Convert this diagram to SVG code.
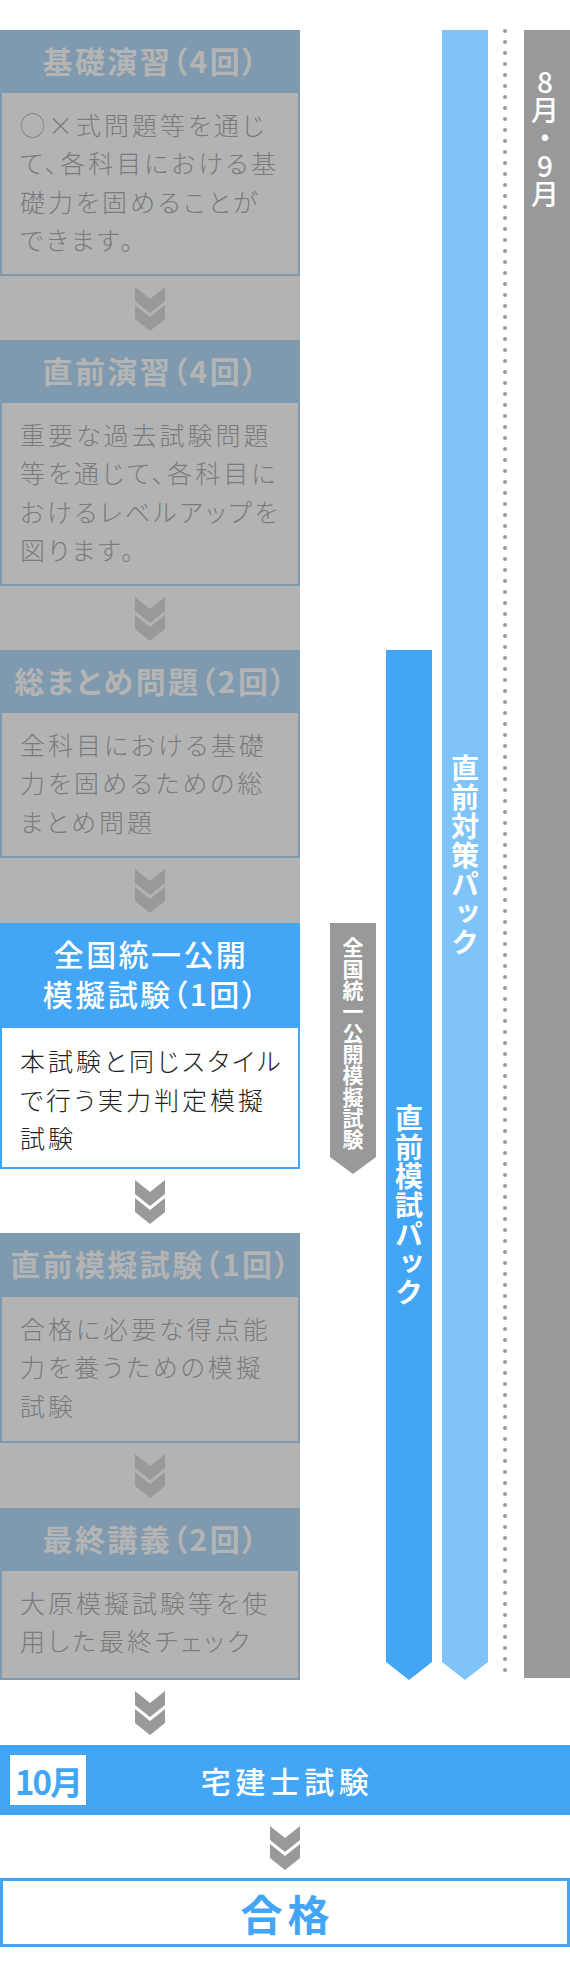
<svg xmlns="http://www.w3.org/2000/svg" width="570" height="1980" viewBox="0 0 570 1980">
<style>
text { font-family: "Noto Sans CJK JP", "Noto Sans", sans-serif; font-feature-settings: "palt"; }
.hd { font-size: 30px; font-weight: 700; letter-spacing: 2.4px; text-anchor: middle; }
.hdg { fill: #b4b4b4; }
.hdw { fill: #ffffff; font-weight: 500; }
.bd { font-size: 25px; font-weight: 300; letter-spacing: 3px; }
.bdg { fill: #7b7b7b; }
.bdk { fill: #222222; }
.hbg { fill: #7f9aae; }
.bbg { fill: #b3b3b3; stroke: #7f9aae; stroke-width: 2; }
.band { fill: #b3b3b3; }
.chev { fill: #999999; }
.vt { writing-mode: vertical-rl; text-orientation: upright; fill: #ffffff; font-weight: 700; font-feature-settings: normal; }
</style>
<defs>
<g id="dchev">
<path d="M-15,0 L0,12 L15,0 L15,14 L0,26 L-15,14 Z"/>
<path d="M-15,18 L0,30 L15,18 L15,32 L0,44 L-15,32 Z"/>
</g>
</defs>

<g id="timeline">
<rect x="524" y="30" width="46" height="1648" fill="#999999"/>
<text class="vt" x="545" y="68" font-size="28" font-weight="500" style="font-weight:500">8月・9月</text>
<line x1="505" y1="31" x2="505" y2="1673" stroke="#999999" stroke-width="4" stroke-linecap="round" stroke-dasharray="0 11"/>
</g>

<g id="pack-taisaku">
<polygon points="442,30 488,30 488,1662 465,1680 442,1662" fill="#7fc4f8"/>
<text class="vt" x="465" y="754" font-size="28" letter-spacing="1">直前対策パック</text>
</g>

<g id="pack-moshi">
<polygon points="386,650 432,650 432,1662 409,1680 386,1662" fill="#42a5f5"/>
<text class="vt" x="409" y="1104" font-size="28" letter-spacing="1">直前模試パック</text>
</g>

<g id="tag-zenkoku">
<polygon points="330,923 376,923 376,1157 353,1174 330,1157" fill="#999999"/>
<text class="vt" x="353" y="937" font-size="21" letter-spacing="0.3">全国統一公開模擬試験</text>
</g>

<g id="bands">
<rect class="band" x="0" y="276" width="300" height="64"/>
<rect class="band" x="0" y="586" width="300" height="64"/>
<rect class="band" x="0" y="858" width="300" height="65"/>
<rect class="band" x="0" y="1443" width="300" height="65"/>
</g>

<g id="step1">
<rect class="hbg" x="0" y="30" width="300" height="62"/>
<text class="hd hdg" x="151" y="73">基礎演習（4回）</text>
<rect class="bbg" x="1" y="92" width="298" height="183"/>
<text class="bd bdg" x="20" y="135">◯×式問題等を通じ</text>
<text class="bd bdg" x="20" y="173.3">て、各科目における基</text>
<text class="bd bdg" x="20" y="211.6">礎力を固めることが</text>
<text class="bd bdg" x="20" y="250">できます。</text>
</g>

<g id="step2">
<rect class="hbg" x="0" y="340" width="300" height="62"/>
<text class="hd hdg" x="151" y="383">直前演習（4回）</text>
<rect class="bbg" x="1" y="402" width="298" height="183"/>
<text class="bd bdg" x="20" y="445">重要な過去試験問題</text>
<text class="bd bdg" x="20" y="483.3">等を通じて、各科目に</text>
<text class="bd bdg" x="20" y="521.6">おけるレベルアップを</text>
<text class="bd bdg" x="20" y="560">図ります。</text>
</g>

<g id="step3">
<rect class="hbg" x="0" y="650" width="300" height="62"/>
<text class="hd hdg" x="151" y="693">総まとめ問題（2回）</text>
<rect class="bbg" x="1" y="712" width="298" height="145"/>
<text class="bd bdg" x="20" y="755">全科目における基礎</text>
<text class="bd bdg" x="20" y="793.3">力を固めるための総</text>
<text class="bd bdg" x="20" y="831.6">まとめ問題</text>
</g>

<g id="step4">
<rect x="0" y="923" width="300" height="104" fill="#42a5f5"/>
<text class="hd hdw" x="151" y="966">全国統一公開</text>
<text class="hd hdw" x="151" y="1006">模擬試験（1回）</text>
<rect x="1" y="1027" width="298" height="141" fill="#ffffff" stroke="#42a5f5" stroke-width="2"/>
<text class="bd bdk" x="20" y="1071">本試験と同じスタイル</text>
<text class="bd bdk" x="20" y="1109.5">で行う実力判定模擬</text>
<text class="bd bdk" x="20" y="1148">試験</text>
</g>

<g id="step5">
<rect class="hbg" x="0" y="1233" width="300" height="63"/>
<text class="hd hdg" x="151" y="1276">直前模擬試験（1回）</text>
<rect class="bbg" x="1" y="1296" width="298" height="146"/>
<text class="bd bdg" x="20" y="1339">合格に必要な得点能</text>
<text class="bd bdg" x="20" y="1377.3">力を養うための模擬</text>
<text class="bd bdg" x="20" y="1415.6">試験</text>
</g>

<g id="step6">
<rect class="hbg" x="0" y="1508" width="300" height="62"/>
<text class="hd hdg" x="151" y="1551">最終講義（2回）</text>
<rect class="bbg" x="1" y="1570" width="298" height="109"/>
<text class="bd bdg" x="20" y="1613">大原模擬試験等を使</text>
<text class="bd bdg" x="20" y="1651.3">用した最終チェック</text>
</g>

<g id="exam">
<rect x="0" y="1745" width="570" height="70" fill="#42a5f5"/>
<rect x="10" y="1755" width="76" height="50" fill="#ffffff"/>
<text x="48" y="1795" font-size="33" font-weight="700" letter-spacing="-2" text-anchor="middle" fill="#42a5f5">10月</text>
<text x="287" y="1793" font-size="30" font-weight="500" letter-spacing="4.5" text-anchor="middle" fill="#ffffff">宅建士試験</text>
</g>

<g id="pass">
<rect x="1.5" y="1879.5" width="567" height="66" fill="#ffffff" stroke="#42a5f5" stroke-width="3"/>
<text x="287.5" y="1931" font-size="42" font-weight="700" letter-spacing="5" text-anchor="middle" fill="#42a5f5">合格</text>
</g>

<g id="connectors" class="chev">
<use href="#dchev" x="150" y="287"/>
<use href="#dchev" x="150" y="597"/>
<use href="#dchev" x="150" y="869"/>
<use href="#dchev" x="150" y="1180"/>
<use href="#dchev" x="150" y="1454"/>
<use href="#dchev" x="150" y="1691"/>
<use href="#dchev" x="285" y="1826"/>
</g>
</svg>
